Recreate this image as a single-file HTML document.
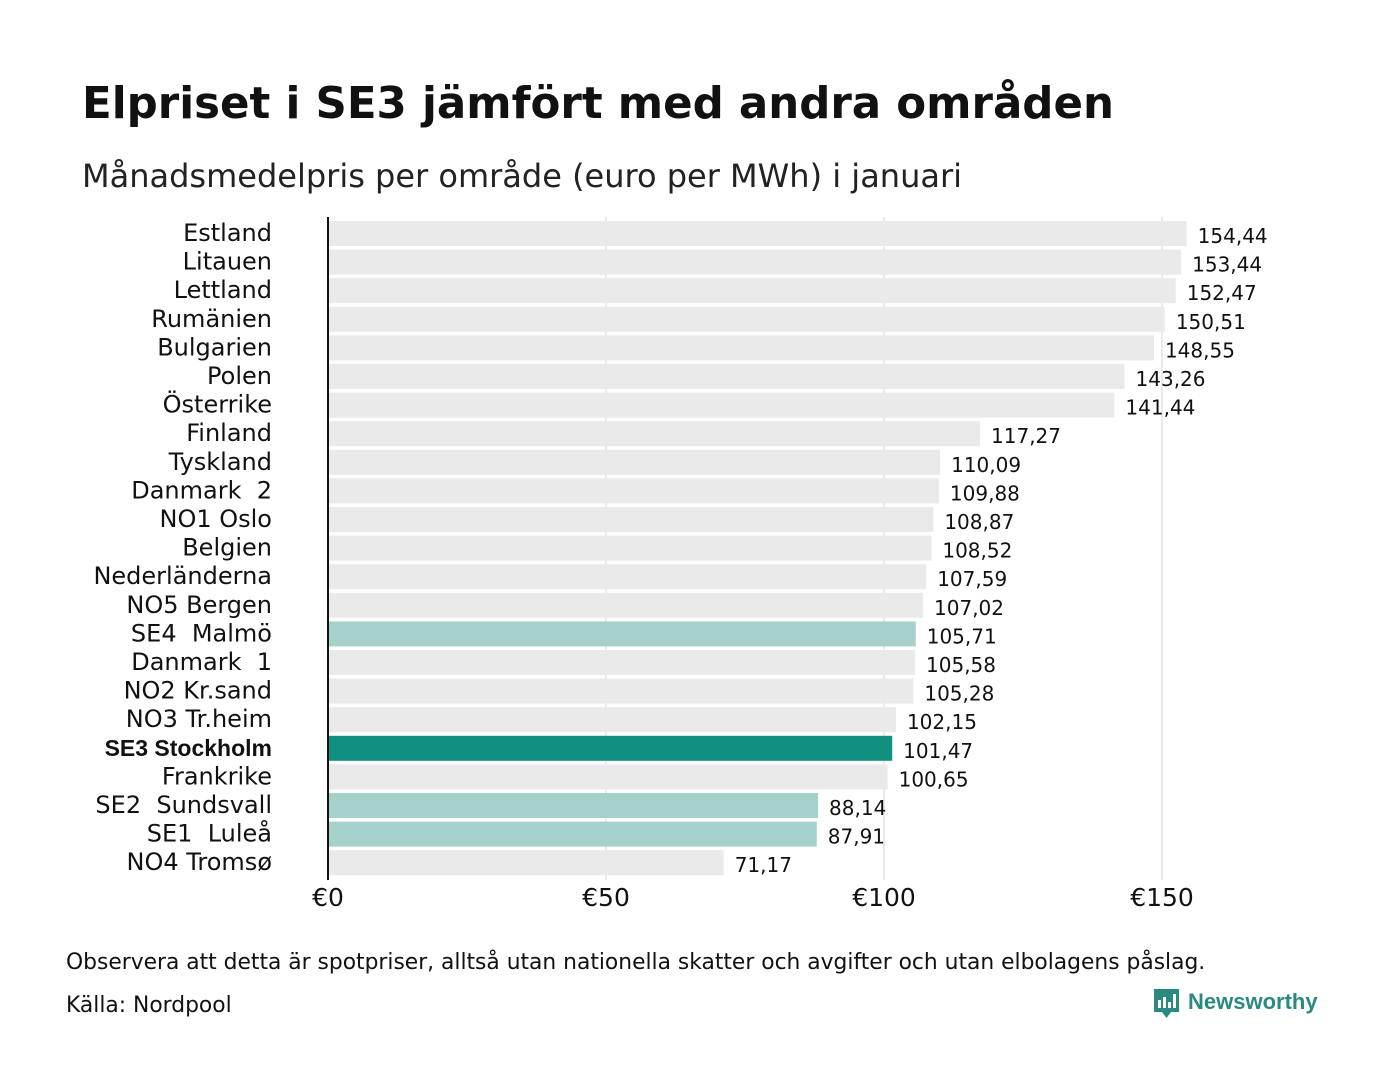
<!DOCTYPE html>
<html><head><meta charset="utf-8"><style>
body{margin:0;background:#fff;width:1400px;height:1080px;overflow:hidden;font-family:"DejaVu Sans","Liberation Sans",sans-serif;color:#111}
text{white-space:pre}
</style></head><body>
<svg id="c" width="1400" height="1080" xmlns="http://www.w3.org/2000/svg">
<text x="82" y="118" font-size="43.5" font-weight="bold" fill="#111">Elpriset i SE3 jämfört med andra områden</text>
<text x="82" y="187" font-size="32" fill="#222">Månadsmedelpris per område (euro per MWh) i januari</text>
<g id="grid"></g><g id="bars"></g>
<text x="66" y="969" font-size="21.8" fill="#111">Observera att detta är spotpriser, alltså utan nationella skatter och avgifter och utan elbolagens påslag.</text>
<text x="66" y="1012" font-size="21.8" fill="#111">Källa: Nordpool</text>
<g>
<path d="M1154 989h25v23h-8l-4.5 6-4.5-6h-8z" fill="#2a8a80"/>
<rect x="1158" y="1000" width="3" height="8" fill="#fff"/><rect x="1163" y="997" width="3" height="11" fill="#fff"/><rect x="1168" y="1002" width="3" height="6" fill="#fff"/><rect x="1173" y="994" width="3" height="14" fill="#fff"/>
<text x="1188" y="1009" font-size="22" font-weight="bold" fill="#2a8a80" font-family="Liberation Sans, sans-serif">Newsworthy</text>
</g>
</svg>
<script>
const categories=["Estland","Litauen","Lettland","Rumänien","Bulgarien","Polen","Österrike","Finland","Tyskland","Danmark  2","NO1 Oslo","Belgien","Nederländerna","NO5 Bergen","SE4  Malmö","Danmark  1","NO2 Kr.sand","NO3 Tr.heim","SE3 Stockholm","Frankrike","SE2  Sundsvall","SE1  Luleå","NO4 Tromsø"];
const values=[154.44,153.44,152.47,150.51,148.55,143.26,141.44,117.27,110.09,109.88,108.87,108.52,107.59,107.02,105.71,105.58,105.28,102.15,101.47,100.65,88.14,87.91,71.17];
const highlight=["SE3 Stockholm"];
const lightHighlight=["SE4  Malmö","SE2  Sundsvall","SE1  Luleå"];
const ticks=[0,50,100,150];
const tickLabels=["€0","€50","€100","€150"];
const NS="http://www.w3.org/2000/svg";
const x0=328,k=(1162-328)/150,top0=221,pitch=28.6,bh=25;
const X=v=>x0+v*k, Y=i=>top0+i*pitch;
function mk(t,a,p){const e=document.createElementNS(NS,t);for(const n in a)e.setAttribute(n,a[n]);p.appendChild(e);return e;}
const g=document.getElementById('grid'),b=document.getElementById('bars');
ticks.forEach((t,i)=>{
 if(t>0){const l=mk('line',{x1:X(t),x2:X(t),y1:217,y2:880,stroke:'#d4d4d4','stroke-width':1},g);
 
 }
 const tx=mk('text',{x:X(t),y:906,'font-size':25,'text-anchor':'middle',fill:'#111'},g);tx.textContent=tickLabels[i];
 
 
});
categories.forEach((c,i)=>{
 const col=highlight.includes(c)?'#12907f':lightHighlight.includes(c)?'#a6d0ca':'#eaeaea';
 const r=mk('rect',{x:x0,y:Y(i),width:X(values[i])-x0,height:bh,fill:col},b);
 
 
 const hl=highlight.includes(c);
 const l=mk('text',{x:272,y:Y(i)+20,'font-size':hl?23:24,'text-anchor':'end',fill:'#111','font-weight':hl?'bold':'normal','font-family':hl?'Liberation Sans, sans-serif':'DejaVu Sans, sans-serif'},b);
 l.textContent=c;
 
 
 const v=mk('text',{x:X(values[i])+11,y:Y(i)+22,'font-size':20,fill:'#111'},b);
 v.textContent=values[i].toFixed(2).replace('.',',');
 
 
});
const ax=mk('line',{x1:x0,x2:x0,y1:217,y2:880,stroke:'#111','stroke-width':2},b);


</script>
</body></html>
